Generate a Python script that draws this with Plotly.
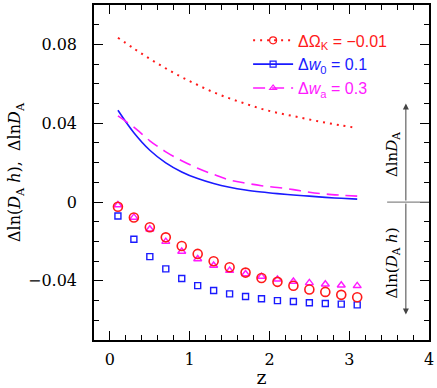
import plotly.graph_objects as go

# redshift bins
z = [0.1, 0.3, 0.5, 0.7, 0.9, 1.1, 1.3, 1.5, 1.7, 1.9, 2.1, 2.3, 2.5, 2.7, 2.9, 3.1]

# Delta ln D_A (lines)
dlnDA_ok = [0.0834, 0.0779, 0.0727, 0.0678, 0.0634, 0.0594, 0.0557, 0.0526,
            0.0499, 0.0473, 0.0453, 0.0436, 0.0419, 0.0403, 0.0389, 0.0376]
dlnDA_w0 = [0.0466, 0.0352, 0.0263, 0.0199, 0.0153, 0.0119, 0.0094, 0.0075,
            0.0061, 0.0051, 0.0043, 0.0036, 0.0030, 0.0024, 0.0019, 0.0015]
dlnDA_wa = [0.0437, 0.0380, 0.0311, 0.0255, 0.0210, 0.0172, 0.0140, 0.0112,
            0.0096, 0.0083, 0.0074, 0.0063, 0.0050, 0.0041, 0.0035, 0.0030]

# Delta ln(D_A h) (points)
dlnDAh_ok = [-0.0024, -0.0078, -0.0128, -0.0179, -0.0223, -0.0263, -0.0300, -0.0331,
             -0.0358, -0.0385, -0.0405, -0.0425, -0.0444, -0.0456, -0.0471, -0.0483]
dlnDAh_w0 = [-0.0071, -0.0189, -0.0277, -0.0339, -0.0388, -0.0424, -0.0449, -0.0466,
             -0.0479, -0.0491, -0.0500, -0.0505, -0.0511, -0.0515, -0.0518, -0.0522]
dlnDAh_wa = [-0.0015, -0.0078, -0.0138, -0.0201, -0.0251, -0.0289, -0.0322, -0.0348,
             -0.0365, -0.0378, -0.0392, -0.0403, -0.0410, -0.0417, -0.0422, -0.0425]

RED, BLUE, MAG = '#ff1a1a', '#1a1aff', '#ff1aff'
serif = 'DejaVu Serif'
sans = 'Liberation Sans'

fig = go.Figure()

# curves
fig.add_trace(go.Scatter(x=z, y=dlnDA_ok, mode='lines', line_shape='spline',
                         line=dict(color=RED, width=2, dash='2px,5px'), showlegend=False))
fig.add_trace(go.Scatter(x=z, y=dlnDA_w0, mode='lines', line_shape='spline',
                         line=dict(color=BLUE, width=1.6), showlegend=False))
fig.add_trace(go.Scatter(x=z, y=dlnDA_wa, mode='lines', line_shape='spline',
                         line=dict(color=MAG, width=1.6, dash='12px,7px'), showlegend=False))

# points
fig.add_trace(go.Scatter(x=z, y=dlnDAh_w0, mode='markers', showlegend=False,
                         marker=dict(symbol='square-open', size=6, color=BLUE, line=dict(width=1.4))))
fig.add_trace(go.Scatter(x=z, y=dlnDAh_wa, mode='markers', showlegend=False,
                         marker=dict(symbol='triangle-up-open', size=7, color=MAG, line=dict(width=1.4))))
fig.add_trace(go.Scatter(x=z, y=dlnDAh_ok, mode='markers', showlegend=False,
                         marker=dict(symbol='circle-open', size=9, color=RED, line=dict(width=1.6))))

# legend entries (line + marker)
fig.add_trace(go.Scatter(x=[None], y=[None], mode='lines+markers',
                         line=dict(color=RED, width=2, dash='2px,5px'),
                         marker=dict(symbol='circle-open', size=7, color=RED, line=dict(width=1.2)),
                         name='<span style="color:#ff1a1a">ΔΩ<sub>K</sub> = −0.01</span>'))
fig.add_trace(go.Scatter(x=[None], y=[None], mode='lines+markers',
                         line=dict(color=BLUE, width=1.6),
                         marker=dict(symbol='square-open', size=6, color=BLUE, line=dict(width=1.2)),
                         name='<span style="color:#1a1aff">Δ<i>w</i><sub>0</sub> = 0.1</span>'))
fig.add_trace(go.Scatter(x=[None], y=[None], mode='lines+markers',
                         line=dict(color=MAG, width=1.6, dash='12px,7px'),
                         marker=dict(symbol='triangle-up-open', size=6, color=MAG, line=dict(width=1.2)),
                         name='<span style="color:#ff1aff">Δ<i>w</i><sub>a</sub> = 0.3</span>'))

# right-hand annotation: gray zero line, double arrow, labels
fig.add_shape(type='line', x0=3.475, x1=4.0, y0=0, y1=0, line=dict(color='#888888', width=1.2))
for tip in (0.050, -0.057):
    fig.add_annotation(x=3.71, y=tip, ax=3.71, ay=0, xref='x', yref='y', axref='x', ayref='y',
                       showarrow=True, arrowhead=2, arrowsize=1.2, arrowwidth=1, arrowcolor='#444444',
                       text='')
fig.add_annotation(x=3.54, y=0.024, text='Δln<i>D</i><sub>A</sub>', textangle=-90, showarrow=False,
                   font=dict(family=serif, size=15, color='black'))
fig.add_annotation(x=3.54, y=-0.031, text='Δln(<i>D</i><sub>A</sub> <i>h</i>)', textangle=-90,
                   showarrow=False, font=dict(family=serif, size=15, color='black'))

axis_common = dict(showline=True, linecolor='black', linewidth=1.5, mirror='ticks',
                   ticks='inside', tickcolor='black', tickwidth=1.2, ticklen=9,
                   showgrid=False, zeroline=False, automargin=False,
                   tickfont=dict(family=serif, size=16, color='black'))

fig.update_xaxes(range=[-0.2, 4], dtick=1, tick0=0, ticklabelstandoff=4,
                 minor=dict(dtick=0.2, ticks='inside', ticklen=5, tickcolor='black', tickwidth=1.2),
                 title=dict(text='z', font=dict(family=serif, size=19, color='black'), standoff=2),
                 **axis_common)
fig.update_yaxes(range=[-0.07, 0.1], dtick=0.04, tick0=0, ticklabelstandoff=12,
                 minor=dict(dtick=0.01, ticks='inside', ticklen=5, tickcolor='black', tickwidth=1.2),
                 title=dict(text='Δln(<i>D</i><sub>A</sub> <i>h</i>),  Δln<i>D</i><sub>A</sub>',
                            font=dict(family=serif, size=16, color='black'), standoff=3),
                 **axis_common)

fig.update_layout(
    width=437, height=388,
    margin=dict(l=94, r=8, t=5, b=48),
    plot_bgcolor='white', paper_bgcolor='white',
    legend=dict(x=0.46, y=0.945, xanchor='left', yanchor='top', bgcolor='rgba(0,0,0,0)',
                font=dict(family=sans, size=16), tracegroupgap=0, itemwidth=40),
)

fig.write_html("out.html", config={'displayModeBar': False},
               post_script="document.body.style.margin='0';")
